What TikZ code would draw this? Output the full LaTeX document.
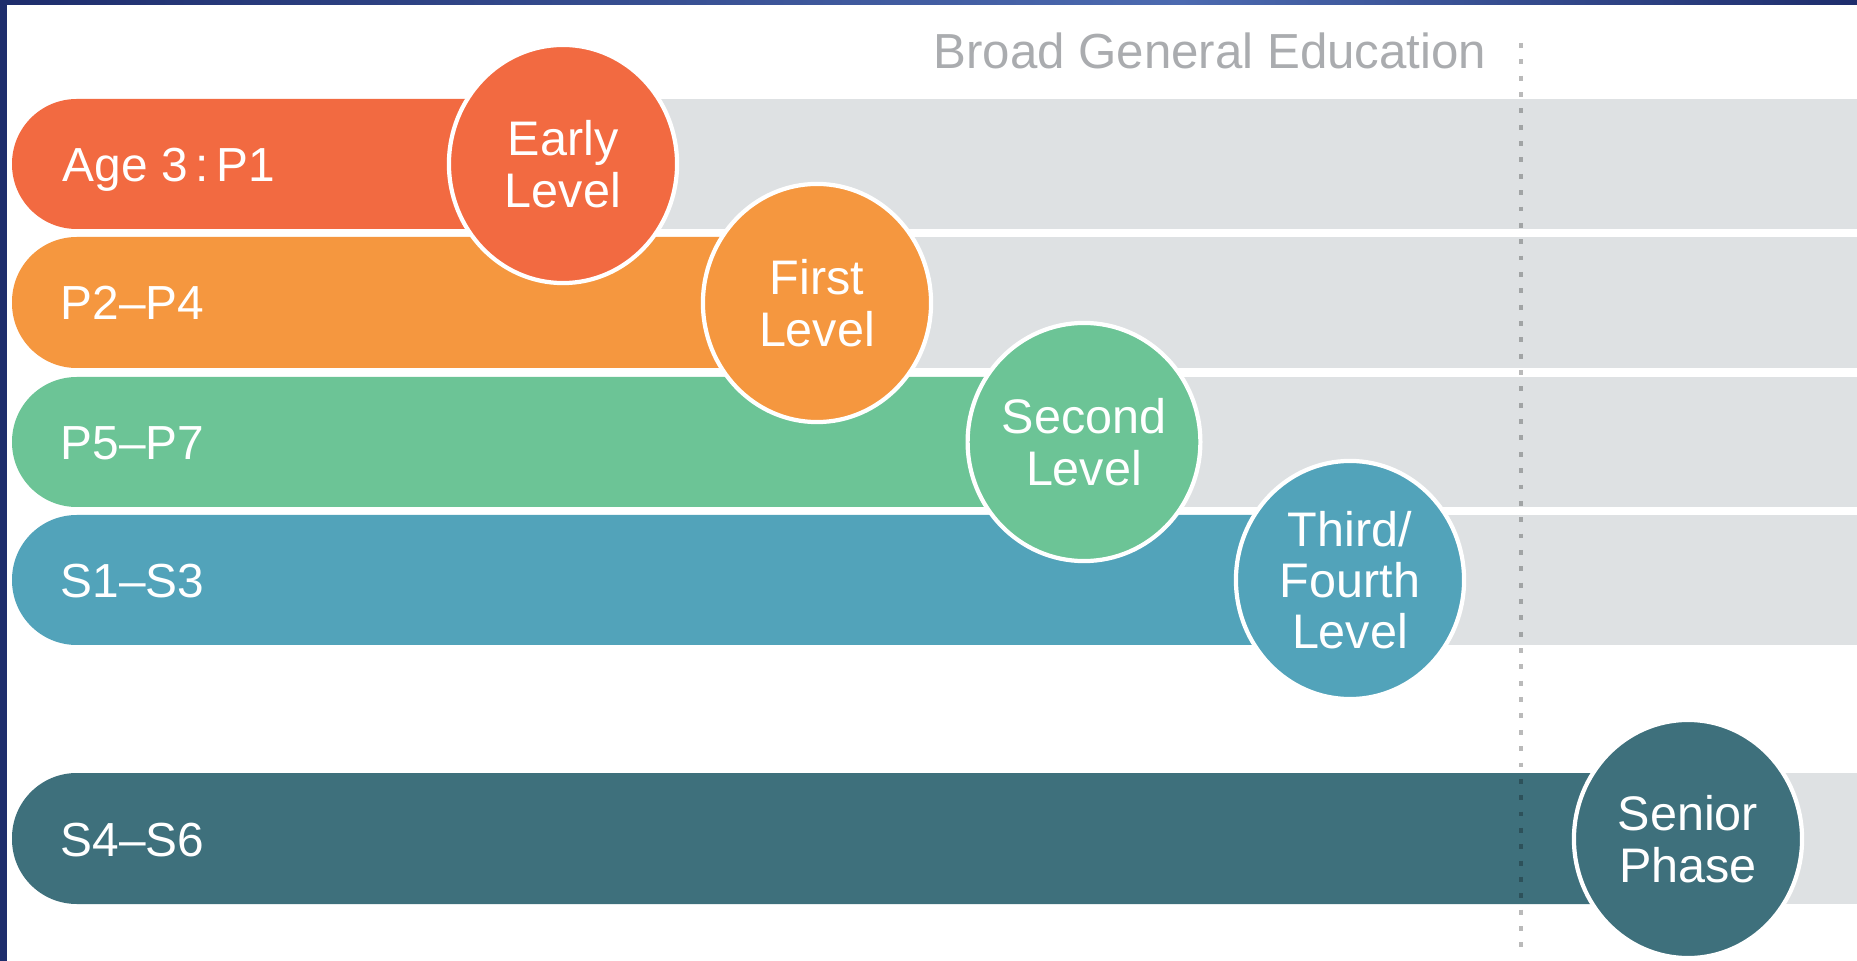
\documentclass[tikz,border=0pt]{standalone}
\usepackage{fontspec}
\setmainfont{Liberation Sans}
\usetikzlibrary{shapes.geometric}
\definecolor{EarlyRed}{HTML}{F26A41}
\definecolor{FirstOrange}{HTML}{F5973F}
\definecolor{SecondGreen}{HTML}{6CC496}
\definecolor{ThirdBlue}{HTML}{52A3BA}
\definecolor{SeniorTeal}{HTML}{3E707C}
\definecolor{TrackGrey}{HTML}{DEE1E3}
\definecolor{TitleGrey}{HTML}{AAACAF}
\definecolor{FrameNavy}{HTML}{1E2D6C}
\definecolor{FrameLight}{HTML}{4C6AB0}

\begin{document}
\begin{tikzpicture}[x=0.01cm,y=-0.01cm,
    level/.style={ellipse,draw=white,line width=1.2pt,minimum width=2.28cm,minimum height=2.38cm,
      inner sep=0pt,align=center,text=white,font=\fontsize{13.8}{14.6}\selectfont},
    stage/.style={anchor=base west,text=white,inner sep=0pt,font=\fontsize{13.6}{17}\selectfont},
    band/.style={rounded corners=18.4pt},
    track/.style={fill=TrackGrey},
    divider/.style={draw=black,opacity=0.27,line width=1.4pt,dash pattern=on 1.4pt off 3.25pt}]
    \useasboundingbox (0,0) rectangle (1857,961);
    \fill[white] (0,0) rectangle (1857,961);
    \fill[track] (563,99) rectangle (1857,229);
    \fill[track] (817,237) rectangle (1857,368);
    \fill[track] (1084,377) rectangle (1857,507);
    \fill[track] (1350,515) rectangle (1857,645);
    \fill[track] (1688,773) rectangle (1857,904);
    \fill[EarlyRed,band] (12,99) rectangle (563,229);
    \fill[FirstOrange,band] (12,237) rectangle (817,368);
    \fill[SecondGreen,band] (12,377) rectangle (1084,507);
    \fill[ThirdBlue,band] (12,515) rectangle (1350,645);
    \fill[SeniorTeal,band] (12,773) rectangle (1688,904);
    \node[stage] (age) at (62,182) {Age 3\,:\,P1};
    \node[stage] (ptwo) at (60,320) {P2–P4};
    \node[stage] (pfive) at (60,460) {P5–P7};
    \node[stage] (sone) at (60,598) {S1–S3};
    \node[stage] (sfour) at (60,856) {S4–S6};
    \node[level,fill=EarlyRed] (early) at (563,164) {Early\\Level};
    \node[level,fill=FirstOrange] (first) at (817,303) {First\\Level};
    \node[level,fill=SecondGreen] (second) at (1084,442) {Second\\Level};
    \node[level,fill=ThirdBlue] (third) at (1350,580) {Third/\\Fourth\\Level};
    \node[level,fill=SeniorTeal] (senior) at (1688,839) {Senior\\Phase};
    \node[anchor=base east,inner sep=0pt,text=TitleGrey,font=\fontsize{14}{17}\selectfont] (bge) at (1487,69) {Broad General Education};
    \coordinate (bgetop) at (1521,43);
    \coordinate (bgeend) at (1521,958);
    \draw[divider] (bgetop) -- (bgeend);
    \fill[FrameNavy] (0,0) rectangle (7,961);
    \shade[left color=FrameNavy,right color=FrameLight] (0,0) rectangle (1180,5);
    \shade[left color=FrameLight,right color=FrameNavy] (1180,0) rectangle (1857,5);
\end{tikzpicture}
\end{document}
